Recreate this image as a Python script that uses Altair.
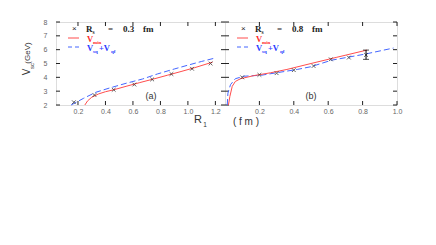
import altair as alt
import pandas as pd

# ---------------- data ----------------
# panel (a): R_s = 0.3 fm
a_min_r = [0.25, 0.27, 0.30, 0.35, 0.40, 0.46, 0.55, 0.65, 0.75, 0.85, 0.95, 1.05, 1.18]
a_min_v = [2.00, 2.30, 2.56, 2.80, 2.96, 3.10, 3.35, 3.62, 3.88, 4.15, 4.42, 4.70, 5.10]
a_sum_r = [0.15, 0.24, 0.33, 0.43, 0.55, 0.67, 0.78, 0.90, 1.00, 1.10, 1.20]
a_sum_v = [2.00, 2.48, 2.92, 3.23, 3.57, 3.88, 4.25, 4.60, 4.88, 5.15, 5.40]
a_pts_r = [0.17, 0.32, 0.46, 0.61, 0.74, 0.88, 1.03, 1.165]
a_pts_v = [2.20, 2.72, 3.10, 3.48, 3.85, 4.24, 4.62, 5.00]

# panel (b): R_s = 0.8 fm
b_min_r = [0.020, 0.028, 0.042, 0.06, 0.09, 0.17, 0.265, 0.36, 0.50, 0.65, 0.825]
b_min_v = [2.00, 2.60, 3.35, 3.70, 3.90, 4.13, 4.33, 4.57, 5.00, 5.45, 5.97]
b_sum_r = [0.013, 0.017, 0.032, 0.06, 0.11, 0.21, 0.30, 0.42, 0.50, 0.62, 0.815, 0.98]
b_sum_v = [2.00, 2.86, 3.47, 3.90, 4.08, 4.15, 4.33, 4.57, 4.77, 5.24, 5.68, 6.12]
b_pts_r = [0.10, 0.20, 0.30, 0.40, 0.515, 0.615, 0.72, 0.82]
b_pts_v = [4.00, 4.18, 4.30, 4.52, 4.82, 5.30, 5.43, 5.62]
b_err_r = [0.82]
b_err_lo = [5.30]
b_err_hi = [5.97]

y_ticks = [2, 3, 4, 5, 6, 7, 8]
a_x_ticks = [0.2, 0.4, 0.6, 0.8, 1.0, 1.2]
b_x_ticks = [0.2, 0.4, 0.6, 0.8, 1.0]

# ---------------- styling ----------------
RED = "#ff4d4d"
BLUE = "#4466ff"
DARK = "#222222"
LBL = "#666666"
H = 83
WA, WB = 169, 172
TICK = 4

dummy = pd.DataFrame({"d": [0]})


def txt(t, x, y, size=9, color=DARK, font="Liberation Sans", weight="normal",
        align="left", angle=0):
    return alt.Chart(dummy).mark_text(
        text=t, fontSize=size, color=color, font=font, fontWeight=weight,
        align=align, baseline="middle", angle=angle
    ).encode(x=alt.value(x), y=alt.value(y))


def panel(xdom, xt, w, min_r, min_v, sum_r, sum_v, pts_r, pts_v,
          rs_text, tag, tag_x, show_y, extra=None, err=None):
    xs = alt.Scale(domain=xdom, nice=False, zero=False)
    ys = alt.Scale(domain=[2, 8], nice=False, zero=False)
    xaxis = alt.Axis(values=xt, format=".1f", ticks=False, domain=False, grid=False,
                     labelFontSize=7, labelColor=LBL, labelPadding=2, title=None,
                     labelFont="Liberation Sans", labelOverlap=False, labelFlush=False)
    if show_y:
        yaxis = alt.Axis(values=y_ticks, format="d", ticks=False, domain=False, grid=False,
                         labelFontSize=7, labelColor=LBL, labelPadding=9, title=None,
                         labelFont="Liberation Sans", labelOverlap=False, labelFlush=False)
    else:
        yaxis = None

    X = alt.X("r:Q", scale=xs, axis=xaxis)
    Y = alt.Y("v:Q", scale=ys, axis=yaxis)

    dmin = pd.DataFrame({"r": min_r, "v": min_v})
    dsum = pd.DataFrame({"r": sum_r, "v": sum_v})
    dpts = pd.DataFrame({"r": pts_r, "v": pts_v})
    dyt = pd.DataFrame({"v": y_ticks})
    dxt = pd.DataFrame({"r": xt})

    layers = []
    # inward ticks
    layers.append(alt.Chart(dyt).mark_rule(color=DARK, strokeWidth=1).encode(
        y=Y, x=alt.value(0), x2=alt.value(TICK)))
    layers.append(alt.Chart(dyt).mark_rule(color=DARK, strokeWidth=1).encode(
        y=Y, x=alt.value(w - TICK), x2=alt.value(w)))
    layers.append(alt.Chart(dxt).mark_rule(color=DARK, strokeWidth=1).encode(
        x=X, y=alt.value(H), y2=alt.value(H - TICK)))
    layers.append(alt.Chart(dxt).mark_rule(color=DARK, strokeWidth=1).encode(
        x=X, y=alt.value(0), y2=alt.value(TICK)))
    # curves
    layers.append(alt.Chart(dsum).mark_line(color=BLUE, strokeWidth=1,
                                            strokeDash=[6, 3]).encode(x=X, y=Y))
    layers.append(alt.Chart(dmin).mark_line(color=RED, strokeWidth=1).encode(x=X, y=Y))
    # data points (crosses)
    layers.append(alt.Chart(dpts).mark_point(
        shape="M-1,-1L1,1M-1,1L1,-1", filled=False, color=DARK, size=14, strokeWidth=1
    ).encode(x=X, y=Y))
    if err is not None:
        derr = pd.DataFrame({"r": err[0], "v": err[1], "hi": err[2]})
        layers.append(alt.Chart(derr).mark_rule(color="black", strokeWidth=1).encode(
            x=X, y=Y, y2="hi:Q"))
        layers.append(alt.Chart(derr).mark_tick(color="black", thickness=1, size=6,
                                                orient="horizontal").encode(x=X, y=Y))
        layers.append(alt.Chart(derr).mark_tick(color="black", thickness=1, size=6,
                                                orient="horizontal").encode(
            x=X, y=alt.Y("hi:Q", scale=ys, axis=None)))

    # legend
    layers += [
        txt("\u00d7", 16, 7, size=8, color=DARK),
        txt("R", 30, 7, size=9, font="Liberation Serif", weight="bold"),
        txt("s", 36.5, 10, size=5.5, font="Liberation Serif", weight="bold"),
        txt("=", 52, 7, size=9, font="Liberation Serif", weight="bold"),
        txt(rs_text, 67, 7, size=9, font="Liberation Serif", weight="bold"),
        txt("fm", 87, 7, size=9, font="Liberation Serif", weight="bold"),
        alt.Chart(dummy).mark_rule(color=RED, strokeWidth=1).encode(
            x=alt.value(12), x2=alt.value(23), y=alt.value(16)),
        txt("V", 31, 17, size=8.5, color="#ff2a2a", font="Liberation Serif", weight="bold"),
        txt("min", 37, 19.5, size=5, color="#ff2a2a", font="Liberation Serif", weight="bold"),
        alt.Chart(dummy).mark_rule(color=BLUE, strokeWidth=1, strokeDash=[4, 3]).encode(
            x=alt.value(12), x2=alt.value(23), y=alt.value(25)),
        txt("V", 31, 26, size=8.5, color="#2a3cff", font="Liberation Serif", weight="bold"),
        txt("sq", 37, 28.5, size=5, color="#2a3cff", font="Liberation Serif", weight="bold"),
        txt("+V", 43, 26, size=8.5, color="#2a3cff", font="Liberation Serif", weight="bold"),
        txt("qf", 55, 28.5, size=5, color="#2a3cff", font="Liberation Serif", weight="bold"),
        txt(tag, tag_x, 74, size=9, color="#333333", font="Liberation Sans", align="center"),
    ]
    if extra:
        layers += extra
    return alt.layer(*layers).properties(width=w, height=H)


left_extra = [
    # y-axis title  V_sc (GeV)
    txt("V", -29, 50, size=10, color="#333333", align="center", angle=270),
    txt("sc", -24, 44, size=6, color="#333333", align="center", angle=270),
    txt("(GeV)", -28, 31, size=8, color="#333333", align="center", angle=270),
    # x-axis title R_1 (fm)
    txt("R", 142, 98, size=11, color="#333333", align="center"),
    txt("1", 149, 103, size=6.5, color="#333333", align="center"),
    txt("( f m )", 190, 100, size=10, color="#333333", align="center"),
]

left = panel([0.04, 1.27], a_x_ticks, WA, a_min_r, a_min_v, a_sum_r, a_sum_v,
             a_pts_r, a_pts_v, "0.3", "(a)", 95, True, extra=left_extra)
right = panel([0.0, 1.0], b_x_ticks, WB, b_min_r, b_min_v, b_sum_r, b_sum_v,
              b_pts_r, b_pts_v, "0.8", "(b)", 86, False,
              err=(b_err_r, b_err_lo, b_err_hi))

chart = alt.hconcat(left, right, spacing=0, bounds="flush").properties(
    padding={"left": 13, "top": 9, "right": 5, "bottom": 5}
).configure_view(stroke="#111111", strokeWidth=1.2).configure(background="white")

chart.save("out.html", embed_options={"renderer": "svg", "actions": False})
